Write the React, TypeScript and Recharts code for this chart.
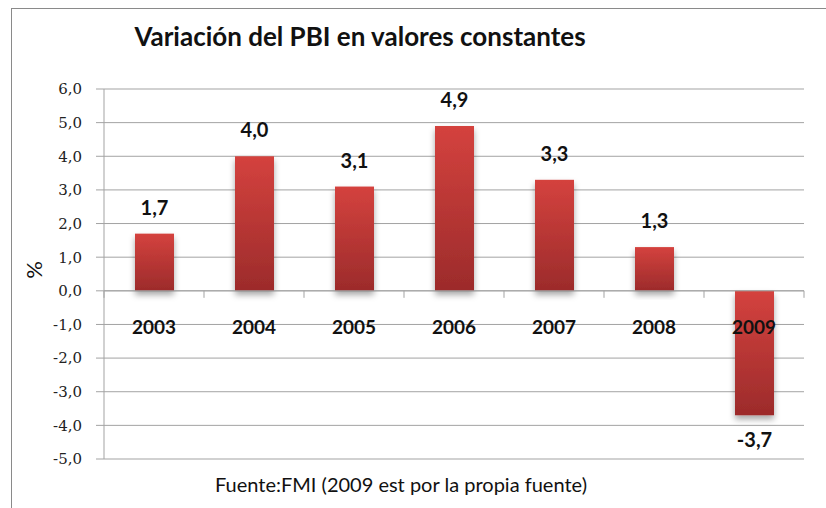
import React from 'react'
import { BarChart, Bar, XAxis, YAxis, CartesianGrid, ReferenceLine, LabelList } from 'recharts'

const YEARS = ['2003', '2004', '2005', '2006', '2007', '2008', '2009']
const GROWTH = [1.7, 4.0, 3.1, 4.9, 3.3, 1.3, -3.7]
const Y_TICKS = [-5, -4, -3, -2, -1, 0, 1, 2, 3, 4, 5, 6]

const W = 826
const H = 508
const PLOT_TOP = 89
const PLOT_BOTTOM = 459
const X_AXIS_H = 30
const Y_MIN = -5
const Y_MAX = 6
const ZERO_Y = PLOT_TOP + (PLOT_BOTTOM - PLOT_TOP) * Y_MAX / (Y_MAX - Y_MIN)
const BAND = 100

const SANS = "Lato, 'Open Sans', sans-serif"
const SERIF = "'DejaVu Serif', 'Liberation Serif', serif"
const GRID = '#a3a3a3'

const data = YEARS.map((year, i) => ({ year, value: GROWTH[i] }))

const fmt = (v: number) => v.toFixed(1).replace('.', ',')

// year labels sit just under the zero line, not at the bottom of the plot
const CategoryTick = (props: any) => {
  const { x, payload, index } = props
  const last = index === YEARS.length - 1
  return (
    <g>
      <line x1={x - BAND / 2} x2={x - BAND / 2} y1={ZERO_Y} y2={ZERO_Y + 7} stroke={GRID} />
      {last && <line x1={x + BAND / 2} x2={x + BAND / 2} y1={ZERO_Y} y2={ZERO_Y + 7} stroke={GRID} />}
      <text x={x} y={ZERO_Y + 38} textAnchor="middle" dominantBaseline="middle"
        fontFamily={SANS} fontWeight={700} fontSize={19} fill="#111">
        {payload.value}
      </text>
    </g>
  )
}

const ShadowBar = (props: any) => {
  const { x, y, width, height } = props
  const top = Math.min(y, y + height)
  const h = Math.abs(height)
  return <rect x={x} y={top} width={width} height={h} fill="url(#barFill)" filter="url(#barShadow)" />
}

const ValueLabel = (props: any) => {
  const { x, y, width, height, value } = props
  const top = Math.min(y, y + height)
  const bottom = Math.max(y, y + height)
  const cx = x + width / 2
  const neg = value < 0
  return (
    <text x={cx} y={neg ? bottom + 27 : top - 24} textAnchor="middle" dominantBaseline="middle"
      fontFamily={SANS} fontWeight={700} fontSize={20} fill="#111">
      {fmt(value)}
    </text>
  )
}

export default function App() {
  return (
    <div style={{ position: 'absolute', left: 0, top: 0, width: W, height: H, background: '#fff', overflow: 'hidden' }}>
      <div style={{
        position: 'absolute', left: 11, top: 8, right: -4, bottom: -4,
        borderTop: '1.5px solid #8a8a8a', borderLeft: '1.5px solid #8a8a8a',
      }} />
      <div style={{
        position: 'absolute', left: 0, width: 720, top: 20, textAlign: 'center',
        fontFamily: SANS, fontWeight: 700, fontSize: 26, color: '#111',
      }}>
        Variación del PBI en valores constantes
      </div>
      <div style={{
        position: 'absolute', left: 0, width: 802, top: 472, textAlign: 'center',
        fontFamily: SANS, fontSize: 20, color: '#111',
      }}>
        Fuente:FMI (2009 est por la propia fuente)
      </div>
      <div style={{
        position: 'absolute', left: 33, top: 270, transform: 'translate(-50%, -50%) rotate(-90deg)',
        fontFamily: SANS, fontSize: 22, color: '#111',
      }}>
        %
      </div>
      <div style={{ position: 'absolute', left: 0, top: 0 }}>
        <BarChart width={W} height={H} data={data}
          margin={{ top: PLOT_TOP, right: 22, bottom: H - PLOT_BOTTOM - X_AXIS_H, left: 0 }}>
          <defs>
            <linearGradient id="barFill" x1="0" y1="0" x2="0" y2="1">
              <stop offset="0%" stopColor="#d4423e" />
              <stop offset="100%" stopColor="#9c2b2b" />
            </linearGradient>
            <filter id="barShadow" x="-30%" y="-10%" width="160%" height="130%">
              <feDropShadow dx="0" dy="4" stdDeviation="3" floodColor="#000" floodOpacity="0.35" />
            </filter>
          </defs>
          <CartesianGrid vertical={false} stroke={GRID} />
          <XAxis dataKey="year" height={X_AXIS_H} axisLine={false} tickLine={false} tick={<CategoryTick />} interval={0} />
          <YAxis
            width={104}
            domain={[Y_MIN, Y_MAX]}
            ticks={Y_TICKS}
            interval={0}
            tickFormatter={fmt}
            axisLine={{ stroke: GRID }}
            tickLine={{ stroke: GRID }}
            tickSize={8}
            tickMargin={14}
            tick={{ fontFamily: SERIF, fontSize: 15, fill: '#222' }}
          />
          <ReferenceLine y={0} stroke={GRID} />
          <Bar dataKey="value" barSize={39} shape={<ShadowBar />} isAnimationActive={false}>
            <LabelList dataKey="value" content={<ValueLabel />} />
          </Bar>
        </BarChart>
      </div>
    </div>
  )
}
